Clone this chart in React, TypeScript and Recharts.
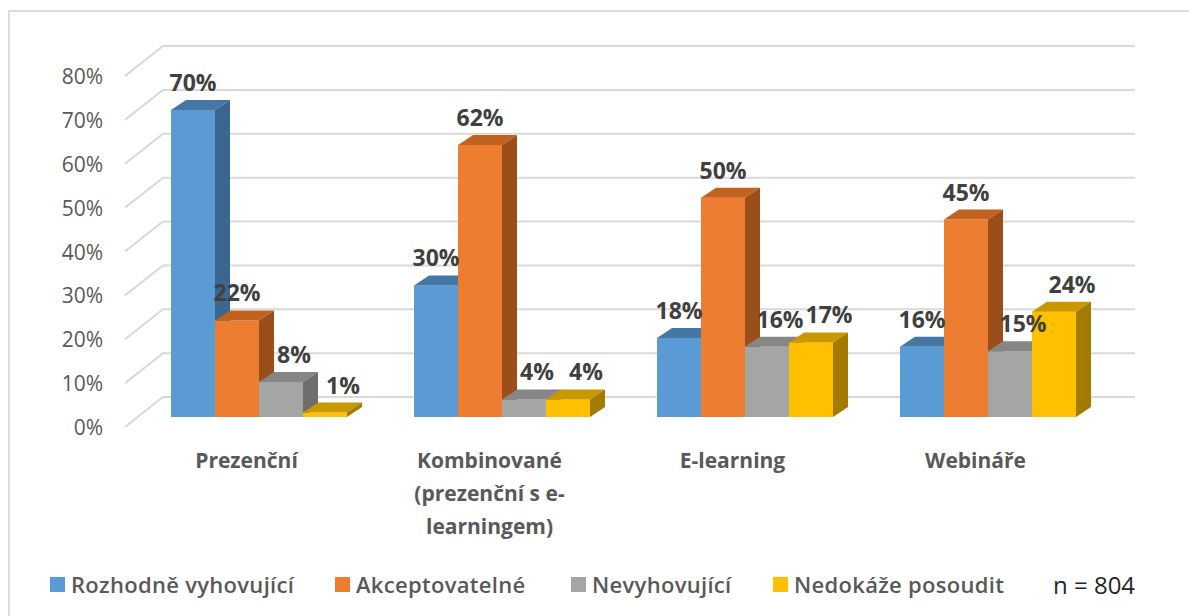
import React from 'react';
import { BarChart, Bar, XAxis, YAxis, CartesianGrid, Legend, LabelList } from 'recharts';

// kategorie a hodnoty (podíl respondentů)
const categories = ['Prezenční', 'Kombinované (prezenční s e-learningem)', 'E-learning', 'Webináře'];
const categoryLines = [['Prezenční'], ['Kombinované', '(prezenční s e-', 'learningem)'], ['E-learning'], ['Webináře']];
const rozhodneVyhovujici = [0.7, 0.3, 0.18, 0.16];
const akceptovatelne = [0.22, 0.62, 0.5, 0.45];
const nevyhovujici = [0.08, 0.04, 0.16, 0.15];
const nedokazePosoudit = [0.01, 0.04, 0.17, 0.24];
const seriesNames = ['Rozhodně vyhovující', 'Akceptovatelné', 'Nevyhovující', 'Nedokáže posoudit'];
const yTicks = [0, 0.1, 0.2, 0.3, 0.4, 0.5, 0.6, 0.7, 0.8];
const sampleSize = 'n = 804';

const data = categories.map((name, i) => ({
  name,
  s0: rozhodneVyhovujici[i],
  s1: akceptovatelne[i],
  s2: nevyhovujici[i],
  s3: nedokazePosoudit[i],
}));

// barvy čelní / horní / boční stěny, posun popisku
const series = [
  { key: 's0', front: '#5B9BD5', top: '#4477A6', side: '#3A6690', labelDx: 0 },
  { key: 's1', front: '#ED7D31', top: '#C2621F', side: '#9C4E1A', labelDx: 0 },
  { key: 's2', front: '#A5A5A5', top: '#868686', side: '#6E6E6E', labelDx: 13 },
  { key: 's3', front: '#FFC000', top: '#C99700', side: '#A37B00', labelDx: 18 },
];

const DX = 15;
const DY = 10;
const FONT = '"Open Sans", sans-serif';

const Box3D = (props: any) => {
  const { x, y, width, height, front, top, side } = props;
  if (x == null || height == null) return null;
  return (
    <g>
      <rect x={x} y={y} width={width} height={height} fill={front} />
      <polygon
        points={`${x},${y} ${x + width},${y} ${x + width + DX},${y - DY} ${x + DX},${y - DY}`}
        fill={top}
      />
      <polygon
        points={`${x + width},${y} ${x + width + DX},${y - DY} ${x + width + DX},${y + height - DY} ${x + width},${y + height}`}
        fill={side}
      />
    </g>
  );
};

const GridLine = (props: any) => {
  const { x1, x2, y1 } = props;
  return (
    <polyline
      key={`g-${y1}`}
      points={`${x1 - 12},${y1 + 10} ${x1 + 26},${y1 - 20} ${x2 + 26},${y1 - 20}`}
      fill="none"
      stroke="#D9D9D9"
      strokeWidth={2}
    />
  );
};

const YTick = (props: any) => {
  const { y, payload } = props;
  return (
    <text x={103} y={y + 10} textAnchor="end" dominantBaseline="central" fill="#595959" fontSize={21}>
      {`${Math.round(payload.value * 100)}%`}
    </text>
  );
};

const XTick = (props: any) => {
  const { x, y, index } = props;
  const lines = categoryLines[index] || [];
  return (
    <g>
      {lines.map((l, i) => (
        <text
          key={i}
          x={x - 12}
          y={y + 43 + i * 33}
          textAnchor="middle"
          dominantBaseline="central"
          fill="#595959"
          fontSize={21}
          fontWeight={700}
        >
          {l}
        </text>
      ))}
    </g>
  );
};

const ValueLabel = (props: any) => {
  const { x, y, width, value, dx = 0 } = props;
  return (
    <text x={x + width / 2 + dx} y={y - 19} textAnchor="middle" fill="#404040" fontSize={23} fontWeight={700}>
      {`${Math.round(value * 100)}%`}
    </text>
  );
};

const legendLefts = [50, 335, 571, 773];

const renderLegend = () => (
  <div style={{ position: 'relative', height: 0 }}>
    {series.map((s, i) => (
      <div
        key={s.key}
        style={{
          position: 'absolute',
          left: legendLefts[i],
          top: 572,
          display: 'flex',
          alignItems: 'center',
          whiteSpace: 'nowrap',
          height: 24,
        }}
      >
        <span style={{ width: 15, height: 15, background: s.front, marginRight: 6, display: 'inline-block' }} />
        <span style={{ fontSize: 22, fontWeight: 600, color: '#595959', letterSpacing: 0.3 }}>{seriesNames[i]}</span>
      </div>
    ))}
    <div style={{ position: 'absolute', left: 1053, top: 568, fontSize: 24, color: '#262626', whiteSpace: 'nowrap' }}>
      {sampleSize}
    </div>
  </div>
);

export default function App() {
  return (
    <div
      style={{
        position: 'absolute',
        left: 0,
        top: 0,
        width: 1189,
        height: 616,
        background: '#fff',
        overflow: 'hidden',
        fontFamily: FONT,
      }}
    >
      <div
        style={{
          position: 'absolute',
          left: 8,
          top: 10,
          width: 1200,
          height: 620,
          borderLeft: '2px solid #DCDCDC',
          borderTop: '2px solid #DCDCDC',
        }}
      />
      <BarChart
        width={1189}
        height={616}
        data={data}
        margin={{ top: 66, right: 80, left: 77, bottom: 169 }}
        barGap={0}
        barSize={44}
        style={{ position: 'absolute', left: 0, top: 0 }}
      >
        <CartesianGrid vertical={false} horizontal={(p: any) => <GridLine {...p} />} />
        <XAxis dataKey="name" height={30} axisLine={false} tickLine={false} tickSize={0} tickMargin={0} tick={<XTick />} interval={0} />
        <XAxis xAxisId="labels" dataKey="name" hide />
        <YAxis
          width={60}
          domain={[0, 0.8]}
          ticks={yTicks}
          axisLine={false}
          tickLine={false}
          tick={<YTick />}
          interval={0}
        />
        {series.map((s, i) => (
          <Bar
            key={s.key}
            dataKey={s.key}
            name={seriesNames[i]}
            fill={s.front}
            isAnimationActive={false}
            shape={(p: any) => <Box3D {...p} front={s.front} top={s.top} side={s.side} />}
          />
        ))}
        {/* průhledné sloupce jen kvůli popiskům nad všemi sloupci */}
        {series.map((s) => (
          <Bar
            key={`lbl-${s.key}`}
            xAxisId="labels"
            dataKey={s.key}
            fill="transparent"
            legendType="none"
            isAnimationActive={false}
          >
            <LabelList dataKey={s.key} content={<ValueLabel dx={s.labelDx} />} />
          </Bar>
        ))}
        <Legend verticalAlign="top" content={renderLegend} wrapperStyle={{ left: 0, top: 0, width: 1189 }} />
      </BarChart>
    </div>
  );
}
